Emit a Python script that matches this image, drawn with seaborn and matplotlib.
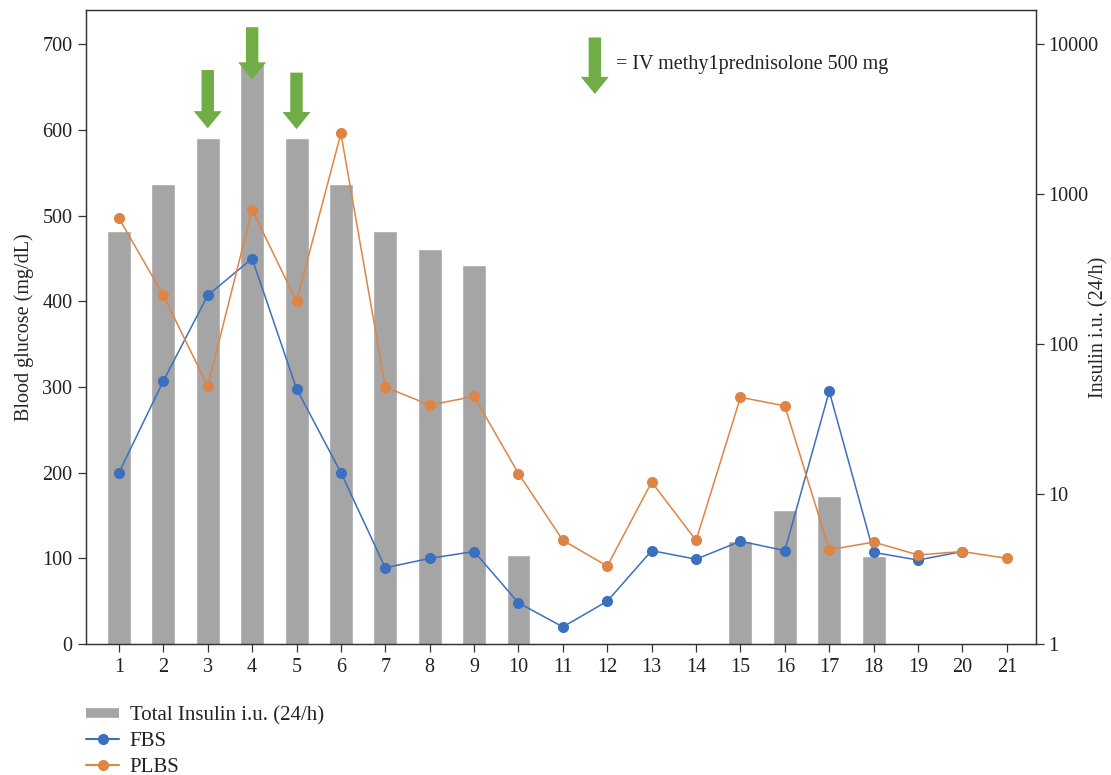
import numpy as np
import pandas as pd
import seaborn as sns
import matplotlib.pyplot as plt
from matplotlib.lines import Line2D
from matplotlib.patches import FancyArrow

days = list(range(1, 22))
insulin = [567, 1166, 2360, 7600, 2360, 1166, 567, 430, 336, 3.9,
           np.nan, np.nan, np.nan, np.nan, 4.86, 7.8, 9.75, 3.86, np.nan, np.nan, np.nan]
fbs = [200, 307, 407, 450, 298, 200, 89, 100, 108, 48,
       20, 50, 109, 99, 120, 109, 295, 107, 98, 108, np.nan]
plbs = [497, 407, 301, 507, 400, 596, 300, 279, 289, 199,
        121, 91, 189, 121, 288, 278, 110, 119, 104, 108, 100]

steroid_days = [3, 4, 5]
arrow_top = [670, 720, 667]
arrow_tip = [602, 659, 601]

df = pd.DataFrame({'day': days, 'insulin': insulin, 'FBS': fbs, 'PLBS': plbs})

sns.set_style('ticks')
plt.rcParams['font.family'] = ['Liberation Serif', 'DejaVu Serif']
plt.rcParams['axes.edgecolor'] = '#333333'
plt.rcParams['axes.linewidth'] = 0.9

bar_col = '#A5A5A5'
blue = '#3A70BD'
orange = '#DE8444'
green = '#70AD47'
fs = 14.5

fig = plt.figure(figsize=(11.11, 7.75), dpi=100)
ax = fig.add_axes([0.0771, 0.169, 0.8551, 0.818])
ax2 = ax.twinx()

# bars on right log axis, behind the lines
ax2.set_yscale('log')
sns.barplot(data=df.dropna(subset=['insulin']), x='day', y='insulin', native_scale=True,
            width=0.54, color=bar_col, saturation=1, ax=ax2)
ax2.set_ylim(1, 10 ** 4.227)
ax2.set_yticks([1, 10, 100, 1000, 10000])
ax2.set_yticklabels(['1', '10', '100', '1000', '10000'])
ax2.minorticks_off()
ax2.set_ylabel('Insulin i.u. (24/h)', fontsize=fs)
ax2.yaxis.set_label_coords(1.0665, 0.5)
ax2.yaxis.label.set_va('center')
ax2.set_xlabel('')

ax.set_zorder(ax2.get_zorder() + 1)
ax.patch.set_visible(False)

sns.lineplot(data=df, x='day', y='FBS', color=blue, marker='o', markersize=8,
             markeredgewidth=0, linewidth=1.1, ax=ax)
sns.lineplot(data=df, x='day', y='PLBS', color=orange, marker='o', markersize=8,
             markeredgewidth=0, linewidth=1.1, ax=ax)

ax.set_xlim(0.25, 21.65)
ax.set_ylim(0, 740)
ax.set_yticks(range(0, 701, 100))
ax.set_xticks(days)
ax.set_xlabel('')
ax.set_ylabel('Blood glucose (mg/dL)', fontsize=fs, labelpad=6)

for a in (ax, ax2):
    a.tick_params(labelsize=fs, length=6, width=0.9, color='#333333', labelcolor='#222222')
ax.tick_params(axis='x', pad=4)
ax2.tick_params(axis='y', pad=3)

# steroid arrows
for d, t, b in zip(steroid_days, arrow_top, arrow_tip):
    ax.add_patch(FancyArrow(d, t, 0, b - t, width=0.28, head_width=0.63, head_length=20,
                            length_includes_head=True, color=green, lw=0, zorder=5))
ax.add_patch(FancyArrow(11.72, 708, 0, -66, width=0.28, head_width=0.63, head_length=20,
                        length_includes_head=True, color=green, lw=0, zorder=5))
ax.text(12.2, 676, '= IV methy1prednisolone 500 mg', fontsize=fs, va='center', ha='left',
        color='#222222')

handles = [Line2D([], [], color=bar_col, lw=7, solid_capstyle='butt'),
           Line2D([], [], color=blue, marker='o', markersize=8, mew=0, lw=1.5),
           Line2D([], [], color=orange, marker='o', markersize=8, mew=0, lw=1.5)]
fig.legend(handles, ['Total Insulin i.u. (24/h)', 'FBS', 'PLBS'], loc='upper left',
           bbox_to_anchor=(0.07, 0.1), frameon=False, fontsize=fs + 0.5, handlelength=1.6,
           labelspacing=0.3, borderaxespad=0, handletextpad=0.5, labelcolor='#222222')

plt.savefig('out.png', dpi=100)
plt.close()
